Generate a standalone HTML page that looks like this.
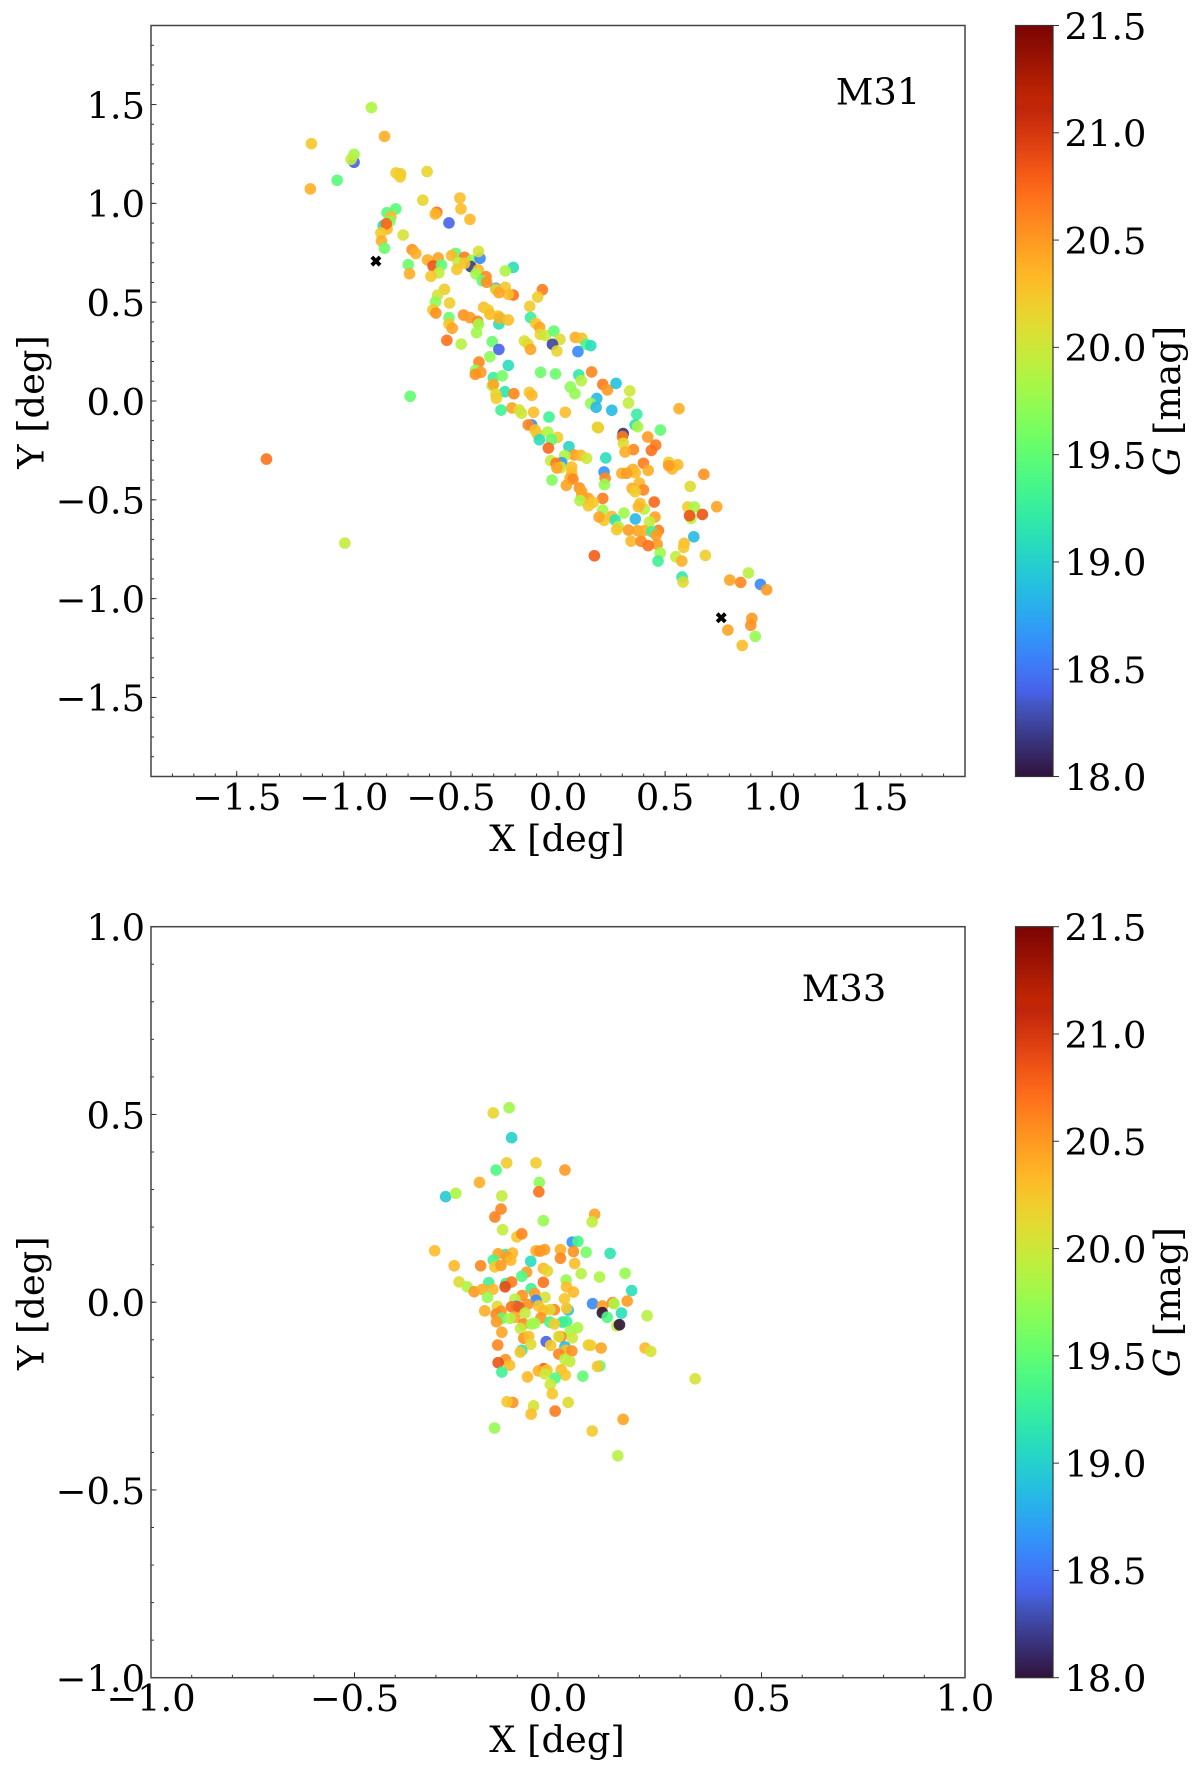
<!DOCTYPE html>
<html lang="en">
<head>
<meta charset="utf-8">
<title>M31 and M33 source maps</title>
<style>
html,body{margin:0;padding:0;background:#fff;}
svg{display:block;}
text{font-family:"DejaVu Serif","Liberation Serif",serif;fill:#000;}
</style>
</head>
<body>
<svg id="figure" xmlns="http://www.w3.org/2000/svg" width="1200" height="1775" viewBox="0 0 1200 1775">
<rect width="1200" height="1775" fill="#fff"/>
<defs>
<linearGradient id="turboGrad" x1="0" y1="1" x2="0" y2="0"></linearGradient>
</defs>
</svg>
<script>
// ---------- chart data ----------
const m31X = [
-.871,-.810,-1.151,-.952,-.952,-.966,-1.031,-1.156,-.756,-.735,
-.737,-.611,-.631,-.458,-.453,-.411,-.566,-.573,-.509,-.757,
-.798,-.780,-.785,-.816,-.798,-.802,-.827,-.723,-.824,-.810,
-.681,-.664,-.609,-.559,-.583,-.544,-.699,-.693,-.556,-.593,
-.478,-.497,-.436,-.466,-.403,-.364,-.371,-.407,-.436,-.472,
-.372,-.383,-.209,-.246,-.336,-.354,-.333,-.290,-.291,-.246,
-.209,-.232,-.276,-.073,-.095,-.132,-.530,-.562,-.572,-.506,
-.584,-.570,-.347,-.326,-.318,-.441,-.411,-.375,-.371,-.509,
-.509,-.494,-.380,-.519,-.452,-.279,-.268,-.276,-.274,-.232,
-.128,-.104,-.086,-.083,-.058,-.019,.009,-.026,-.005,-.157,
-.140,-.128,-.307,-.276,-.318,-.369,-.385,-.360,-.386,-.232,
-.302,-.260,-.307,-.301,-.248,-.206,-.290,-.288,-.134,-.122,
-.081,-.012,.081,.111,.131,.153,.093,.097,.157,.109,
.058,.079,.181,-.690,.153,.178,
.209,.231,.271,.335,.329,.368,.251,.565,.360,.372,
.478,.304,.301,.305,.419,.456,.436,.352,.313,.223,
.517,.559,.533,.517,.399,.681,.349,.361,.421,.298,
.321,.617,.380,.346,.399,.360,.215,.220,.217,.449,
.209,.403,.383,.375,.606,.637,.741,.621,.614,.674,
.453,.308,.209,.361,.427,.251,.266,.282,.274,.215,
.469,.329,.371,.402,.438,.458,.634,.589,.586,.341,
.388,.463,.421,.477,.550,.578,.688,.467,.579,.584,
-.215,-.266,-.181,-.170,-.114,.034,-.042,.188,.184,-.123,
-.139,-.107,-.097,-.048,-.002,-.030,-.087,-.045,.051,.075,
.106,.134,.031,-.034,.017,-.009,.014,-.005,.064,.064,
-.028,.056,.070,.039,.100,.111,.111,.142,.103,.165,
.142,.192,.170,
.802,.853,.889,.945,.974,.905,.900,.793,.921,.860,
-1.361,-.995
];
const m31Y = [
1.485,1.339,1.302,1.208,1.248,1.223,1.117,1.073,1.154,1.150,
1.134,1.161,1.016,1.027,.972,.919,.955,.946,.901,.972,
.953,.933,.909,.887,.870,.897,.850,.840,.810,.773,
.766,.746,.714,.724,.683,.688,.690,.644,.648,.631,
.747,.736,.727,.700,.712,.722,.757,.680,.697,.666,
.663,.643,.676,.658,.629,.609,.601,.570,.565,.575,
.536,.540,.548,.563,.526,.479,.565,.536,.501,.496,
.461,.445,.474,.461,.439,.435,.422,.403,.388,.422,
.390,.368,.346,.307,.288,.430,.420,.390,.420,.410,
.422,.393,.373,.337,.332,.354,.312,.287,.253,.304,
.288,.261,.300,.261,.224,.197,.155,.145,.135,.180,
.118,.127,.078,.084,.047,.037,.035,.013,.044,.029,
.145,.137,.322,.317,.287,.280,.250,.132,.147,.103,
.071,.037,.013,.024,-.012,-.032,
.084,.056,.089,.051,-.010,-.067,-.047,-.039,-.121,-.130,
-.147,-.165,-.180,-.214,-.182,-.223,-.250,-.246,-.258,-.288,
-.310,-.322,-.344,-.327,-.315,-.371,-.346,-.363,-.351,-.366,
-.366,-.432,-.415,-.442,-.450,-.459,-.359,-.390,-.423,-.511,
-.493,-.547,-.518,-.535,-.536,-.536,-.535,-.594,-.580,-.574,
-.587,-.567,-.552,-.597,-.612,-.584,-.602,-.636,-.651,-.604,
-.655,-.653,-.656,-.656,-.661,-.678,-.687,-.720,-.741,-.709,
-.710,-.725,-.732,-.769,-.788,-.810,-.781,-.810,-.891,-.916,
-.035,-.046,-.046,-.062,-.057,-.057,-.081,-.135,-.133,-.121,
-.121,-.147,-.167,-.157,-.184,-.196,-.196,-.238,-.231,-.273,
-.275,-.290,-.277,-.302,-.312,-.315,-.337,-.339,-.334,-.363,
-.400,-.391,-.395,-.427,-.440,-.459,-.479,-.493,-.504,-.513,
-.530,-.587,-.783,
-.906,-.918,-.870,-.928,-.955,-1.100,-1.135,-1.159,-1.191,-1.237,
-.294,-.719
];
const m31G = [
19.85,20.39,20.25,18.39,19.8,19.95,19.45,20.39,20.2,20.22,
20.2,20.15,20.15,20.3,20.3,20.34,20.7,20.34,18.4,19.45,
19.45,20.34,19.65,19.1,20.34,20.75,20.22,20.05,20.39,19.55,
20.54,20.39,20.39,20.44,20.85,19.5,19.55,20.39,19.95,20.25,
19.5,20.34,20.65,19.9,19.75,18.6,20.05,18.2,20.25,20.25,
20.34,19.8,19.1,19.85,20.59,19.5,20.54,18.65,20.15,20.25,
20.7,20.3,20.44,20.65,20.2,20.22,20.22,20.05,19.7,20.2,
20.25,20.54,20.3,20.2,20.3,20.54,20.49,20.59,19.8,19.55,
20.25,20.44,19.8,20.7,19.9,20.25,19.75,19.1,20.39,20.3,
19.25,20.25,20.44,20.15,20.0,19.5,20.1,18.25,20.15,20.05,
20.1,20.44,19.55,18.4,19.7,20.59,19.7,20.49,20.54,19.1,
19.25,19.6,19.85,20.44,19.15,20.59,20.15,20.2,20.22,20.34,
19.55,19.55,20.39,20.3,19.4,19.1,18.6,19.2,20.59,19.9,
19.7,19.75,18.85,19.5,19.75,18.85,
20.65,20.49,18.9,20.0,19.95,19.25,18.85,20.39,19.1,19.85,
19.5,18.15,20.65,20.1,20.49,20.65,20.7,20.59,20.39,19.1,
20.2,20.34,20.34,20.49,20.65,20.54,20.39,20.3,20.39,20.39,
20.49,20.1,20.34,20.39,20.59,20.2,18.65,20.59,19.75,20.75,
20.65,19.9,20.3,20.34,20.2,19.85,20.44,19.9,20.85,20.85,
20.44,19.8,19.8,18.85,19.95,20.34,19.15,19.9,20.25,20.25,
20.65,20.49,20.44,20.39,19.3,20.49,18.85,20.3,20.25,20.34,
20.59,20.49,20.7,19.8,19.95,20.39,20.2,19.3,19.2,20.1,
20.44,19.3,20.1,20.0,20.3,20.3,19.3,20.34,20.15,18.6,
20.59,20.3,20.25,19.85,20.2,19.5,19.1,20.75,19.05,20.49,
20.34,20.0,19.85,19.95,18.7,20.65,20.0,20.44,20.3,20.3,
19.65,20.39,20.59,20.44,20.54,20.44,20.44,20.44,19.85,20.25,
20.25,20.44,20.8,
20.44,20.59,19.9,18.6,20.49,20.49,20.54,20.44,19.75,20.3,
20.7,19.95
];
const m31CrossX = [-.850,.762];
const m31CrossY = [.708,-1.097];

const m33X = [
-.159,-.120,-.114,-.126,-.054,-.152,.017,-.193,-.046,-.047,
-.276,-.251,-.138,-.140,-.155,-.036,.090,.084,-.136,-.101,
-.089,.035,.049,-.303,-.129,-.147,-.112,-.054,-.044,-.033,
.006,.038,.069,.128,-.125,-.116,-.159,-.255,-.190,-.155,
-.140,-.067,.006,.041,-.036,-.026,-.077,-.089,.057,.102,
.165,-.243,-.223,-.170,-.128,.020,-.114,-.036,-.130,-.206,
-.186,-.160,-.173,-.066,.021,.038,-.057,-.088,-.032,-.106,
.016,.181,.085,.109,.134,.138,.170,-.149,-.054,-.048,
-.102,-.075,-.114,-.096,-.009,-.020,-.036,.025,.021,-.180,
-.140,-.152,.109,.156,.219,.121,-.081,-.106,-.138,-.118,
-.151,-.042,-.020,.011,.021,-.009,-.085,-.057,-.065,.145,
.151,.048,-.092,.030,-.138,-.084,-.072,.007,.002,.035,
-.029,-.018,-.067,-.148,.075,.080,.106,.214,.228,.017,
-.089,-.093,.019,.034,.002,-.129,-.147,-.119,.017,.029,
.103,.097,-.138,-.035,-.048,-.027,-.032,.008,.018,-.007,
-.075,.061,.337,-.019,-.014,
-.111,-.125,-.060,-.066,-.007,.025,.160,.084,-.156,.147
];
const m33Y = [
.504,.518,.438,.371,.371,.352,.352,.319,.319,.294,
.281,.290,.283,.248,.227,.217,.234,.214,.193,.174,
.182,.160,.162,.137,.127,.129,.131,.137,.136,.140,
.140,.135,.133,.130,.120,.112,.112,.097,.097,.094,
.098,.109,.117,.103,.090,.083,.080,.069,.076,.067,
.077,.054,.041,.052,.050,.059,.054,.053,.041,.028,
.034,.034,.013,.036,.041,.027,.023,.018,.013,.008,
.009,.031,-.004,-.010,-.001,-.004,.003,-.011,.005,-.010,
-.011,-.006,-.012,-.013,-.020,-.020,-.022,-.021,-.016,-.023,
-.024,-.032,-.028,-.029,-.036,-.040,-.029,-.040,-.043,-.043,
-.052,-.042,-.053,-.053,-.052,-.058,-.058,-.056,-.058,-.063,
-.060,-.068,-.070,-.077,-.080,-.096,-.091,-.092,-.091,-.095,
-.105,-.115,-.112,-.114,-.114,-.115,-.122,-.122,-.131,-.119,
-.128,-.133,-.128,-.130,-.138,-.153,-.161,-.168,-.152,-.158,
-.170,-.171,-.186,-.177,-.183,-.181,-.191,-.180,-.194,-.202,
-.199,-.197,-.204,-.219,-.244,
-.267,-.265,-.276,-.298,-.290,-.267,-.312,-.343,-.335,-.409
];
const m33G = [
20.15,19.8,19.0,20.22,20.2,19.4,20.49,20.39,19.7,20.7,
18.95,19.85,19.95,20.59,20.62,19.75,20.44,19.95,19.95,20.25,
20.59,18.65,19.35,20.3,19.2,20.44,20.34,20.39,20.54,20.49,
20.39,20.54,19.6,19.15,20.49,20.34,19.35,20.34,20.59,20.25,
20.49,19.1,20.59,20.3,20.34,20.15,20.49,19.4,19.9,19.85,
19.75,20.1,19.85,19.3,19.3,19.75,20.65,20.7,20.9,20.49,
20.39,20.34,19.75,19.3,20.3,20.34,20.49,20.54,20.05,19.9,
20.25,19.1,18.6,20.49,20.59,19.85,20.49,20.1,18.6,20.25,
18.6,20.54,20.7,20.8,20.59,20.1,20.3,18.9,20.25,20.39,
20.54,20.59,18.0,19.1,19.9,19.4,19.95,20.44,19.5,19.85,
20.49,20.54,19.35,19.2,19.3,20.22,20.59,19.8,19.8,19.95,
18.0,19.85,19.95,19.8,20.44,20.54,20.3,20.65,20.1,20.0,
18.4,20.25,20.1,20.59,20.22,20.2,20.44,20.34,20.05,18.85,
19.1,20.25,20.3,20.54,20.59,20.54,20.85,20.3,19.9,19.95,
19.5,20.25,19.3,20.8,20.39,20.25,20.0,20.3,20.25,19.4,
20.34,19.5,20.05,20.0,20.25,
20.54,20.25,20.05,20.3,20.65,20.1,20.44,20.22,19.75,19.9
];

const m31TickLabels = [-1.5,-1.0,-0.5,0.0,0.5,1.0,1.5];
const m33TickLabels = [-1.0,-0.5,0.0,0.5,1.0];
const colorbarTicks = [18.0,18.5,19.0,19.5,20.0,20.5,21.0,21.5];

// ---------- helpers ----------
const NS = 'http://www.w3.org/2000/svg';
const fig = document.getElementById('figure');
function mk(tag, attrs, parent){
  const el = document.createElementNS(NS, tag);
  for (const k in attrs) el.setAttribute(k, attrs[k]);
  (parent || fig).appendChild(el);
  return el;
}
function fmt(v){ return (v < 0 ? '\u2212' : '') + Math.abs(v).toFixed(1); }
function turbo(t){
  t = Math.max(0, Math.min(1, t));
  const lerp = (a, b, u) => a.map((v, i) => Math.round(v + (b[i] - v) * u));
  if (t < 1 / 9) {
    const c = lerp([48, 18, 59], [70, 98, 215], t * 9);
    return 'rgb(' + c.join(',') + ')';
  }
  if (t > 8 / 9) {
    const c = lerp([203, 42, 4], [122, 4, 3], (t - 8 / 9) * 9);
    return 'rgb(' + c.join(',') + ')';
  }
  const p = c => c[0]+t*(c[1]+t*(c[2]+t*(c[3]+t*(c[4]+t*c[5]))));
  const r = p([0.13572138,4.6153926,-42.66032258,132.13108234,-152.94239396,59.28637943]);
  const g = p([0.09140261,2.19418839,4.84296658,-14.18503333,4.27729857,2.82956604]);
  const b = p([0.1066733,12.64194608,-60.58204836,110.36276771,-89.90310912,27.34824973]);
  const c = v => Math.round(Math.max(0, Math.min(1, v)) * 255);
  return 'rgb(' + c(r) + ',' + c(g) + ',' + c(b) + ')';
}
const G_MIN = 18, G_MAX = 21.5;
function gColor(g){ return turbo((g - G_MIN) / (G_MAX - G_MIN)); }

const grad = document.getElementById('turboGrad');
for (let i = 0; i <= 72; i++) {
  const s = document.createElementNS(NS, 'stop');
  s.setAttribute('offset', (i / 72));
  s.setAttribute('stop-color', turbo(i / 72));
  grad.appendChild(s);
}

const FONT = 36.8;
const L = 151, R = 965, BAR_L = 1015.5, BAR_R = 1053;

function drawPanel(p){
  const T = p.top, B = p.bottom;
  const sx = v => L + (v - p.min) / (p.max - p.min) * (R - L);
  const sy = v => B - (v - p.min) / (p.max - p.min) * (B - T);

  const group = mk('g', {});
  
  

  // points
  const pts = mk('g', {}, group);
  
  
  for (let i = 0; i < p.xs.length; i++) {
    const c = mk('circle', {cx: sx(p.xs[i]), cy: sy(p.ys[i]), r: 5.8, fill: gColor(p.gs[i]), 'fill-opacity': 0.9}, pts);
    
    
  }
  // crosses
  for (let i = 0; i < p.crossX.length; i++) {
    const m = mk('path', {d: 'M-5.5,-2.7 L-2.7,-5.5 L0,-2.7 L2.7,-5.5 L5.5,-2.7 L2.7,0 L5.5,2.7 L2.7,5.5 L0,2.7 L-2.7,5.5 L-5.5,2.7 L-2.7,0 Z',
      transform: 'translate(' + sx(p.crossX[i]) + ',' + sy(p.crossY[i]) + ')', fill: '#000'}, group);
    
    
  }

  // minor ticks
  for (let k = Math.round(p.min * 10); k <= Math.round(p.max * 10); k++) {
    const v = k / 10;
    const a = mk('line', {x1: sx(v), x2: sx(v), y1: B, y2: B - 3, stroke: '#333', 'stroke-width': 1}, group);
    
    
    const b = mk('line', {x1: L, x2: L + 3, y1: sy(v), y2: sy(v), stroke: '#333', 'stroke-width': 1}, group);
    
    
  }
  // major ticks + labels
  p.ticks.forEach(v => {
    const a = mk('line', {x1: sx(v), x2: sx(v), y1: B, y2: B - 5.5, stroke: '#333', 'stroke-width': 1}, group);
    
    
    const b = mk('line', {x1: L, x2: L + 5.5, y1: sy(v), y2: sy(v), stroke: '#333', 'stroke-width': 1}, group);
    
    
    const tx = mk('text', {x: sx(v), y: B + 33.5, 'font-size': FONT, 'text-anchor': 'middle'}, group);
    tx.textContent = fmt(v);
    
    
    const ty = mk('text', {x: 145, y: sy(v) + 13.8, 'font-size': FONT, 'text-anchor': 'end'}, group);
    ty.textContent = fmt(v);
    
    
  });
  // frame
  const frame = mk('rect', {x: L, y: T, width: R - L, height: B - T, fill: 'none', stroke: '#444', 'stroke-width': 1.5}, group);
  
  

  // axis titles
  const xt = mk('text', {x: 557, y: B + 74.5, 'font-size': FONT, 'text-anchor': 'middle'}, group);
  xt.textContent = 'X [deg]';
  
  
  const yc = (T + B) / 2 + 1;
  const yt = mk('text', {x: 0, y: 0, 'font-size': FONT, 'text-anchor': 'middle', transform: 'translate(43.5,' + yc + ') rotate(-90)'}, group);
  yt.textContent = 'Y [deg]';
  
  

  // panel label
  const lab = mk('text', {x: p.labelX, y: p.labelY, 'font-size': FONT, 'text-anchor': 'middle'}, group);
  lab.textContent = p.label;
  
  

  // colorbar
  const cb = mk('g', {}, group);
  
  
  const sg = v => B - (v - G_MIN) / (G_MAX - G_MIN) * (B - T);
  const bar = mk('rect', {x: BAR_L, y: T, width: BAR_R - BAR_L, height: B - T, fill: 'url(#turboGrad)', stroke: '#333', 'stroke-width': 1.2}, cb);
  
  
  colorbarTicks.forEach(v => {
    const t = mk('line', {x1: BAR_R, x2: BAR_R + 6, y1: sg(v), y2: sg(v), stroke: '#333', 'stroke-width': 1}, cb);
    
    
    const tl = mk('text', {x: 1064.5, y: sg(v) + 13.8, 'font-size': FONT}, cb);
    tl.textContent = v.toFixed(1);
    
    
  });
  const ct = mk('text', {x: 0, y: 0, 'font-size': FONT, 'text-anchor': 'middle', transform: 'translate(1180,' + (yc - 1) + ') rotate(-90)'}, cb);
  const it = document.createElementNS(NS, 'tspan');
  it.setAttribute('font-style', 'italic');
  it.textContent = 'G';
  ct.appendChild(it);
  ct.appendChild(document.createTextNode(' [mag]'));
  
  
}

drawPanel({name: 'm31', label: 'M31', labelX: 878, labelY: 104.5, top: 25.5, bottom: 776.5, min: -1.9, max: 1.9,
  xs: m31X, ys: m31Y, gs: m31G, crossX: m31CrossX, crossY: m31CrossY, ticks: m31TickLabels});
drawPanel({name: 'm33', label: 'M33', labelX: 844, labelY: 1001, top: 926.7, bottom: 1677.7, min: -1, max: 1,
  xs: m33X, ys: m33Y, gs: m33G, crossX: [], crossY: [], ticks: m33TickLabels});
</script>
</body>
</html>
